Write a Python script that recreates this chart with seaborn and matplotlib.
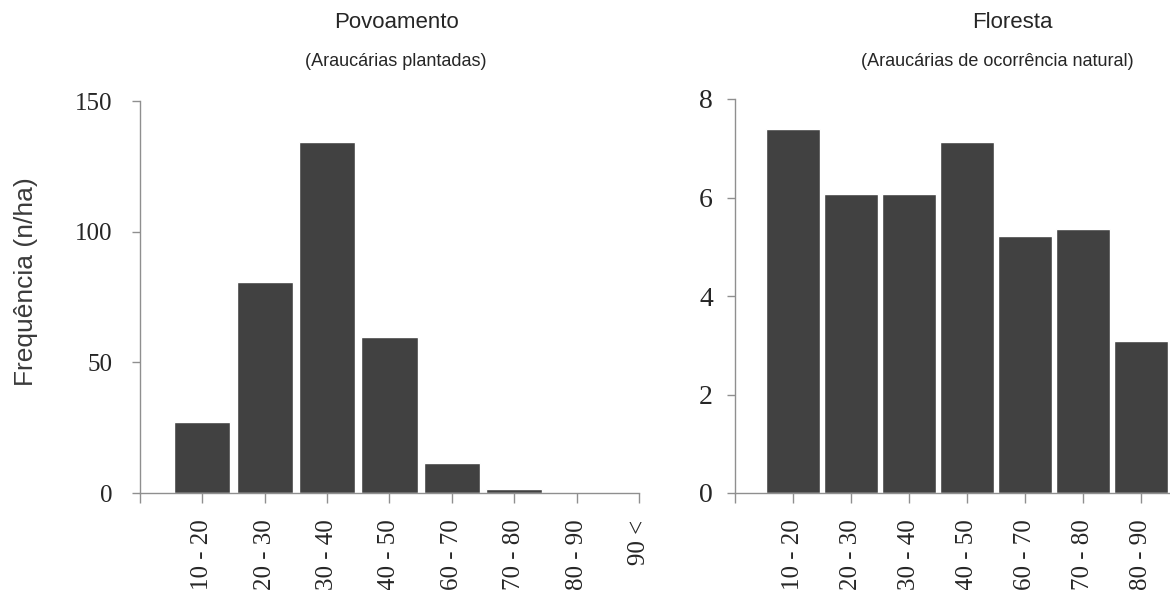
# plot.py
# Frequência diamétrica de araucárias: povoamento x floresta

import seaborn as sns
import matplotlib.pyplot as plt
import pandas as pd

# -----------------------------------------------------------
# Data
# -----------------------------------------------------------

classes_povo = ["10 - 20", "20 - 30", "30 - 40", "40 - 50",
                "60 - 70", "70 - 80", "80 - 90", "90 <"]
freq_povo = [27.2, 80.7, 134.5, 59.8, 11.6, 1.6, 0, 0]

classes_flor = ["10 - 20", "20 - 30", "30 - 40", "40 - 50",
                "60 - 70", "70 - 80", "80 - 90"]
freq_flor = [7.4, 6.07, 6.07, 7.12, 5.22, 5.36, 3.08]

df_povo = pd.DataFrame({"classe": classes_povo, "freq": freq_povo})
df_flor = pd.DataFrame({"classe": classes_flor, "freq": freq_flor})

# -----------------------------------------------------------
# Style
# -----------------------------------------------------------

sns.set_style("white")
plt.rcParams["font.family"] = ["Liberation Sans", "DejaVu Sans"]

BAR = "#414141"
AXC = "#8f8f8f"
SERIF = ["Liberation Serif", "DejaVu Serif"]

W, H = 1170, 590
fig = plt.figure(figsize=(W / 100, H / 100), dpi=100)

ax1 = fig.add_axes([140 / W, 97 / H, 499 / W, 392 / H])
ax2 = fig.add_axes([735 / W, 97 / H, 464 / W, 394 / H])

# -----------------------------------------------------------
# Bars
# -----------------------------------------------------------

sns.barplot(data=df_povo, x="classe", y="freq", order=classes_povo,
            color=BAR, saturation=1, width=0.9, ax=ax1)
sns.barplot(data=df_flor, x="classe", y="freq", order=classes_flor,
            color=BAR, saturation=1, width=0.92, ax=ax2)


def style_axis(ax, labels, yticks, ylim, ysize, ypad):
    ax.set_xlim(-1, 7)
    ax.set_ylim(*ylim)
    ax.set_xticks(range(-1, len(labels)))
    ax.set_xticklabels([""] + labels, rotation=90, family=SERIF, fontsize=18)
    ax.set_yticks(yticks)
    ax.set_yticklabels([str(t) for t in yticks], family=SERIF, fontsize=ysize)
    ax.set_xlabel("")
    ax.set_ylabel("")
    ax.tick_params(axis="x", bottom=True, direction="out", length=7,
                   width=1, color=AXC, pad=12)
    ax.tick_params(axis="y", left=True, direction="out", length=6,
                   width=1, color=AXC, pad=ypad)
    for s in ["top", "right"]:
        ax.spines[s].set_visible(False)
    for s in ["left", "bottom"]:
        ax.spines[s].set_color(AXC)
        ax.spines[s].set_linewidth(1)


style_axis(ax1, classes_povo, [0, 50, 100, 150], (0, 150), 18, 14)
style_axis(ax2, classes_flor, [0, 2, 4, 6, 8], (0, 8), 20, 10)

# -----------------------------------------------------------
# Titles and label
# -----------------------------------------------------------

fig.text(397 / W, 1 - 23 / H, "Povoamento", ha="center", va="center", fontsize=16)
fig.text(396 / W, 1 - 62 / H, "(Araucárias plantadas)", ha="center",
         va="center", fontsize=13)
fig.text(1012 / W, 1 - 23 / H, "Floresta", ha="center", va="center", fontsize=16)
fig.text(997 / W, 1 - 62 / H, "(Araucárias de ocorrência natural)",
         ha="center", va="center", fontsize=13)
fig.text(26 / W, 1 - 282 / H, "Frequência (n/ha)", rotation=90,
         ha="center", va="center", fontsize=19, color="#3a3a3a")

plt.savefig("out.png", dpi=100)
plt.close()
